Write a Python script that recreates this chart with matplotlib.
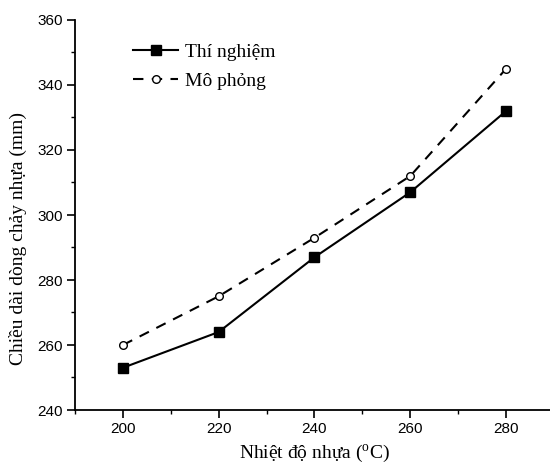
import matplotlib
matplotlib.use('Agg')
import matplotlib.pyplot as plt
from matplotlib.ticker import MultipleLocator

# Dữ liệu
nhiet_do = [200, 220, 240, 260, 280]
thi_nghiem = [253, 264, 287, 307, 332]
mo_phong = [260, 275, 293, 312, 345]

plt.rcParams['mathtext.fontset'] = 'custom'
plt.rcParams['mathtext.rm'] = 'Liberation Serif'

fig = plt.figure(figsize=(5.5, 4.69), dpi=100)
ax = fig.add_axes([75 / 550, 59 / 469, 479 / 550, 390 / 469])

ax.plot(nhiet_do, thi_nghiem, color='black', lw=1.5, marker='s', ms=7.5,
        mfc='black', label='Thí nghiệm')
ax.plot(nhiet_do, mo_phong, color='black', lw=1.5, ls=(0, (5, 4)), marker='o', ms=5.5,
        mfc='white', mew=1.0, label='Mô phỏng')

ax.set_xlim(190, 290)
ax.set_ylim(240, 360)
ax.xaxis.set_major_locator(MultipleLocator(20))
ax.xaxis.set_minor_locator(MultipleLocator(10))
ax.yaxis.set_major_locator(MultipleLocator(20))
ax.yaxis.set_minor_locator(MultipleLocator(10))

ax.spines['top'].set_visible(False)
ax.spines['right'].set_visible(False)
ax.spines['left'].set_linewidth(1.3)
ax.spines['bottom'].set_linewidth(1.3)
ax.tick_params(which='major', direction='out', length=5.5, width=1.2, labelsize=11, pad=3)
ax.tick_params(which='minor', direction='out', length=3, width=1.0)
for lab in ax.get_xticklabels() + ax.get_yticklabels():
    lab.set_family('Liberation Sans')

ax.set_xlabel('Nhiệt độ nhựa ($^{\\mathrm{o}}$C)', family='Liberation Serif', fontsize=14, labelpad=5)
ax.set_ylabel('Chiều dài dòng chảy nhựa (mm)', family='Liberation Serif', fontsize=14)
ax.yaxis.set_label_coords(-0.1, 0.44)

leg = ax.legend(loc='upper left', bbox_to_anchor=(0.085, 0.985), frameon=False,
                prop={'family': 'Liberation Serif', 'size': 14},
                handlelength=2.3, handletextpad=0.35, labelspacing=0.6)

fig.savefig('out.png', dpi=100)
